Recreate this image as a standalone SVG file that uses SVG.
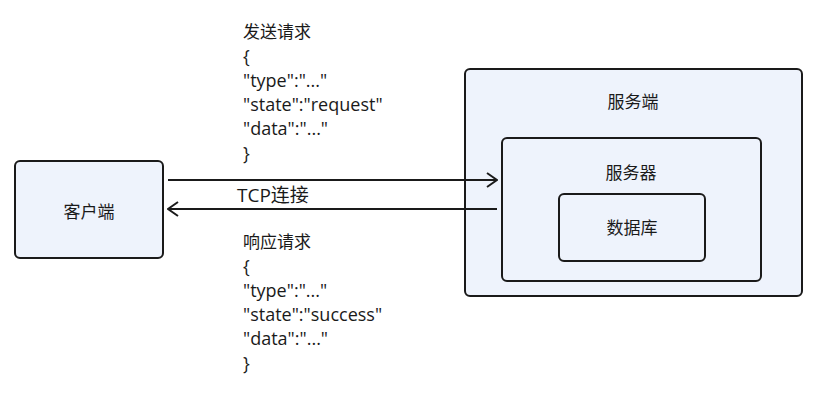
<svg xmlns="http://www.w3.org/2000/svg" width="819" height="401" viewBox="0 0 819 401">
<style>
.box{fill:#eef3fc;stroke:#1a1a1a;stroke-width:2}
.lbl{font-family:"Open Sans","Noto Sans CJK SC",sans-serif;font-size:18px;fill:#1a1a1a}
.cjk{font-size:17px}
.c{text-anchor:middle}
.ln{stroke:#1a1a1a;stroke-width:2;fill:none}
</style>
<defs>
<marker id="ah" viewBox="0 0 12 16" refX="11" refY="8" markerWidth="12" markerHeight="16" markerUnits="userSpaceOnUse" orient="auto">
<path d="M1,1 L11,8 L1,15" fill="none" stroke="#1a1a1a" stroke-width="2"/>
</marker>
</defs>
<rect width="819" height="401" fill="#ffffff"/>
<g id="client">
<rect class="box" x="15" y="161" width="148" height="97" rx="5"/>
<text class="lbl cjk c" x="89" y="218">客户端</text>
</g>
<g id="server">
<rect class="box" x="465" y="69" width="337" height="227" rx="5"/>
<text class="lbl cjk c" x="633" y="108">服务端</text>
</g>
<g id="server-inner">
<rect class="box" x="502" y="138" width="259" height="143" rx="5"/>
<text class="lbl cjk c" x="631" y="179">服务器</text>
</g>
<g id="database">
<rect class="box" x="559" y="194" width="146" height="67" rx="5"/>
<text class="lbl cjk c" x="632" y="234">数据库</text>
</g>
<g id="connectors">
<line class="ln" x1="168" y1="180" x2="497" y2="180" marker-end="url(#ah)"/>
<line class="ln" x1="497" y1="209" x2="168" y2="209" marker-end="url(#ah)"/>
<text class="lbl" x="237" y="202" style="font-size:19px">TCP连接</text>
</g>
<g id="request-label">
<text class="lbl cjk" x="243" y="38">发送请求</text>
<text class="lbl" x="243" y="62.5">{</text>
<text class="lbl" x="243" y="87">"type":"..."</text>
<text class="lbl" x="243" y="111">"state":"request"</text>
<text class="lbl" x="243" y="135">"data":"..."</text>
<text class="lbl" x="243" y="159.5">}</text>
</g>
<g id="response-label">
<text class="lbl cjk" x="243" y="248">响应请求</text>
<text class="lbl" x="243" y="272.5">{</text>
<text class="lbl" x="243" y="297">"type":"..."</text>
<text class="lbl" x="243" y="321">"state":"success"</text>
<text class="lbl" x="243" y="345">"data":"..."</text>
<text class="lbl" x="243" y="369.5">}</text>
</g>
</svg>
